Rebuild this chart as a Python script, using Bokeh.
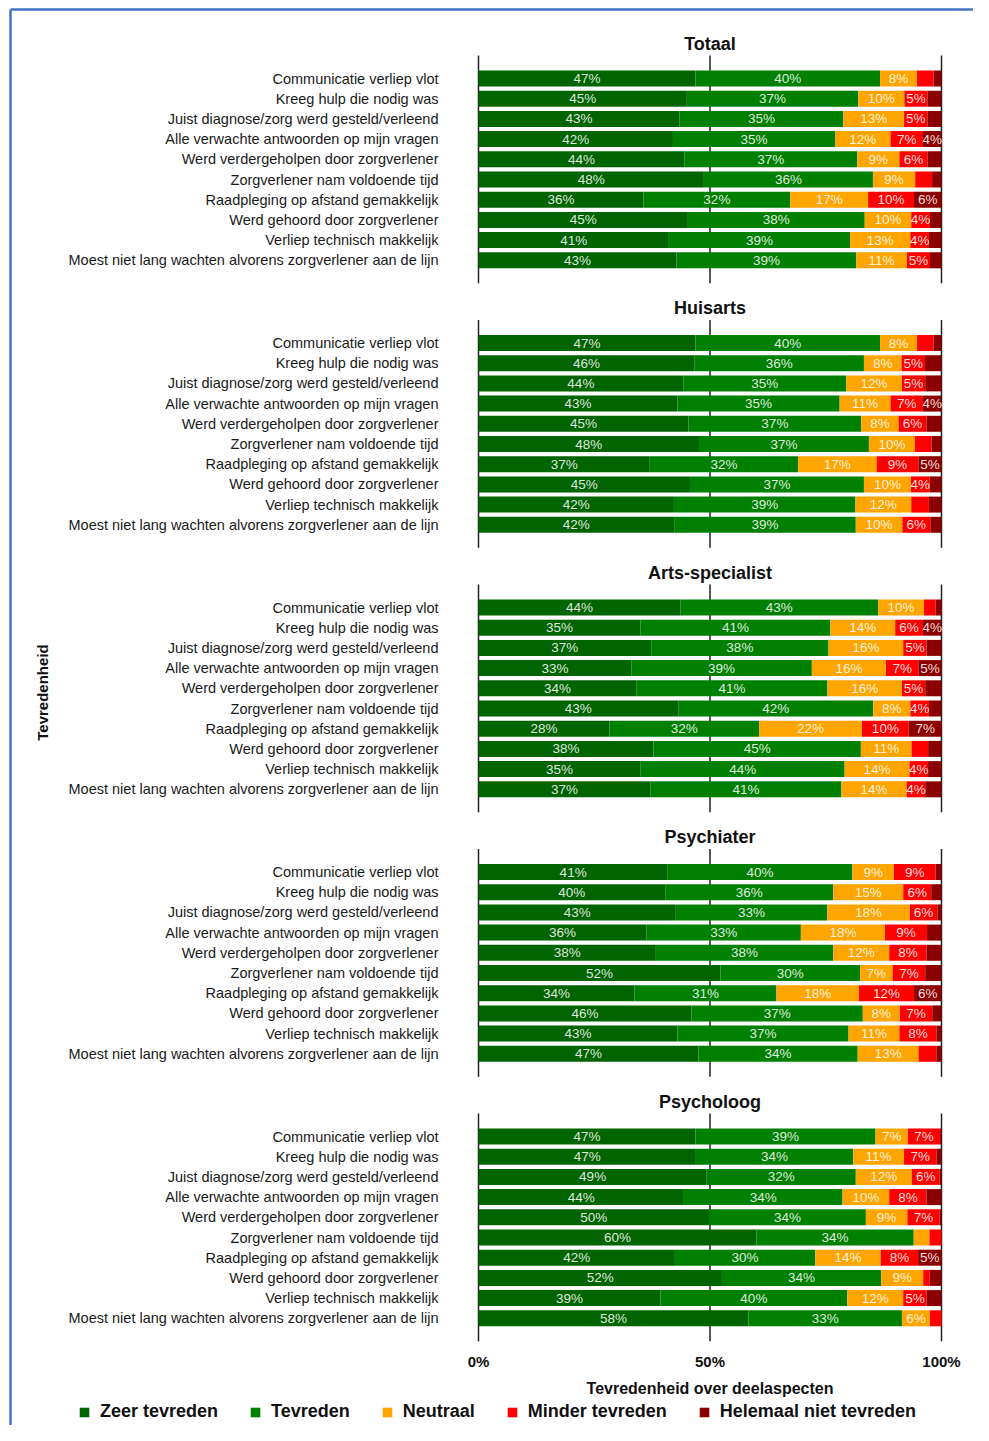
import math
from bokeh.plotting import figure
from bokeh.models import Range1d, Legend, LegendItem, ColumnDataSource
from bokeh.core.properties import value
from bokeh.embed import file_html
from bokeh.resources import INLINE

# ---------------- data ----------------
panels = ["Totaal", "Huisarts", "Arts-specialist", "Psychiater", "Psycholoog"]
aspects = [
    "Communicatie verliep vlot",
    "Kreeg hulp die nodig was",
    "Juist diagnose/zorg werd gesteld/verleend",
    "Alle verwachte antwoorden op mijn vragen",
    "Werd verdergeholpen door zorgverlener",
    "Zorgverlener nam voldoende tijd",
    "Raadpleging op afstand gemakkelijk",
    "Werd gehoord door zorgverlener",
    "Verliep technisch makkelijk",
    "Moest niet lang wachten alvorens zorgverlener aan de lijn",
]
categories = ["Zeer tevreden", "Tevreden", "Neutraal", "Minder tevreden", "Helemaal niet tevreden"]
colors = ["#006400", "#008000", "#FFA500", "#FF0000", "#8B0000"]

zeer_tevreden = {
    "Totaal":          [47, 45, 43, 42, 44, 48, 36, 45, 41, 43],
    "Huisarts":        [47, 46, 44, 43, 45, 48, 37, 45, 42, 42],
    "Arts-specialist": [44, 35, 37, 33, 34, 43, 28, 38, 35, 37],
    "Psychiater":      [41, 40, 43, 36, 38, 52, 34, 46, 43, 47],
    "Psycholoog":      [47, 47, 49, 44, 50, 60, 42, 52, 39, 58],
}
tevreden = {
    "Totaal":          [40, 37, 35, 35, 37, 36, 32, 38, 39, 39],
    "Huisarts":        [40, 36, 35, 35, 37, 37, 32, 37, 39, 39],
    "Arts-specialist": [43, 41, 38, 39, 41, 42, 32, 45, 44, 41],
    "Psychiater":      [40, 36, 33, 33, 38, 30, 31, 37, 37, 34],
    "Psycholoog":      [39, 34, 32, 34, 34, 34, 30, 34, 40, 33],
}
neutraal = {
    "Totaal":          [8, 10, 13, 12, 9, 9, 17, 10, 13, 11],
    "Huisarts":        [8, 8, 12, 11, 8, 10, 17, 10, 12, 10],
    "Arts-specialist": [10, 14, 16, 16, 16, 8, 22, 11, 14, 14],
    "Psychiater":      [9, 15, 18, 18, 12, 7, 18, 8, 11, 13],
    "Psycholoog":      [7, 11, 12, 10, 9, 3.4, 14, 9, 12, 6],
}
minder_tevreden = {
    "Totaal":          [3.6, 5, 5, 7, 6, 3.6, 10, 4, 4, 5],
    "Huisarts":        [3.6, 5, 5, 7, 6, 3.6, 9, 4, 3.8, 6],
    "Arts-specialist": [2.5, 6, 5, 7, 5, 4, 10, 3.6, 4, 4],
    "Psychiater":      [9, 6, 6, 9, 8, 7, 12, 7, 8, 3.8],
    "Psycholoog":      [7, 7, 6, 8, 7, 2.6, 8, 1.4, 5, 2.5],
}
helemaal_niet = {
    "Totaal":          [1.7, 3, 3, 4, 3, 2, 6, 2.5, 2.7, 2.5],
    "Huisarts":        [1.7, 3.5, 3.5, 4, 3.2, 2.2, 5, 2.5, 2.7, 2.4],
    "Arts-specialist": [1.3, 4, 3.2, 5, 3.5, 2.7, 7, 2.9, 2.9, 3.5],
    "Psychiater":      [1.3, 2.2, 0.9, 3.1, 3.2, 3.5, 6, 2, 1.1, 1.1],
    "Psycholoog":      [0.3, 1.1, 0.4, 3.2, 0.4, 0, 5, 2.5, 3.2, 0],
}
series = [zeer_tevreden, tevreden, neutraal, minder_tevreden, helemaal_niet]
x_ticks = [0, 50, 100]
x_tick_labels = ["0%", "50%", "100%"]

# ---------------- layout (page pixels) ----------------
W, H = 973, 1425
OFF = 0
X0_PAGE, X100_PAGE = 478, 941
ROW0 = 78.0
ROW_STEP = 20.2
PANEL_STEP = 264.5
BAR_H = 16
FONT = "Liberation Sans"


def pct(px):
    return (px - X0_PAGE) / (X100_PAGE - X0_PAGE) * 100.0


p = figure(width=W, height=H,
           x_range=Range1d(pct(OFF), pct(OFF + W)),
           y_range=Range1d(OFF + H, OFF),
           output_backend="svg", toolbar_location=None,
           min_border=0, x_axis_location=None, y_axis_location=None,
           outline_line_color=None, background_fill_color="white",
           border_fill_color="white")
p.grid.visible = False

# blue frame
p.segment(x0=[pct(10), pct(10)], y0=[9, 9], x1=[pct(10), pct(1000)], y1=[1450, 9],
          line_color="#4472C4", line_width=2.5)

# gridlines at 0/50/100 per panel
gx, gy0, gy1 = [], [], []
for k in range(len(panels)):
    top = ROW0 + k * PANEL_STEP
    bot = top + (len(aspects) - 1) * ROW_STEP
    for t in x_ticks:
        gx.append(t)
        gy0.append(top - 23)
        gy1.append(bot + 23)
p.segment(x0=gx, y0=gy0, x1=gx, y1=gy1, line_color="#222222", line_width=1.5)

# bars
ys = []
lefts = {c: [] for c in categories}
rights = {c: [] for c in categories}
vals = {c: [] for c in categories}
for k, pn in enumerate(panels):
    for i in range(len(aspects)):
        y = ROW0 + k * PANEL_STEP + i * ROW_STEP
        ys.append(y)
        row = [s[pn][i] for s in series]
        tot = sum(row)
        cum = 0.0
        for c, v in zip(categories, row):
            lefts[c].append(cum / tot * 100)
            cum += v
            rights[c].append(cum / tot * 100)
            vals[c].append(v)

items = []
lab_x, lab_y, lab_t = [], [], []
for c, col in zip(categories, colors):
    src = ColumnDataSource(dict(y=ys, left=lefts[c], right=rights[c]))
    r = p.hbar(y="y", left="left", right="right", height=BAR_H, source=src,
               fill_color=col, line_color=None)
    items.append(LegendItem(label=c, renderers=[r]))
    for yy, l, rr, v in zip(ys, lefts[c], rights[c], vals[c]):
        if v >= 4:
            lab_x.append((l + rr) / 2)
            lab_y.append(yy)
            lab_t.append(f"{round(v)}%")

p.text(x=lab_x, y=lab_y, text=lab_t, text_align="center", text_baseline="middle",
       text_color="white", text_alpha=0.88, text_font=value(FONT), text_font_size="13.5px")

# category labels
cx, cy, ct = [], [], []
for k in range(len(panels)):
    for i, a in enumerate(aspects):
        cx.append(pct(438))
        cy.append(ROW0 + k * PANEL_STEP + i * ROW_STEP)
        ct.append(a)
p.text(x=cx, y=cy, text=ct, text_align="right", text_baseline="middle",
       text_color="#1a1a1a", text_font=value(FONT), text_font_size="14.5px")

# panel titles
p.text(x=[50] * len(panels), y=[ROW0 + k * PANEL_STEP - 35 for k in range(len(panels))],
       text=panels, text_align="center", text_baseline="middle", text_color="#111111",
       text_font=value(FONT), text_font_size="18px", text_font_style="bold")

# tick labels (bottom)
last_bot = ROW0 + (len(panels) - 1) * PANEL_STEP + (len(aspects) - 1) * ROW_STEP
p.text(x=x_ticks, y=[last_bot + 43] * 3, text=x_tick_labels, text_align="center",
       text_baseline="middle", text_color="#111111", text_font=value(FONT),
       text_font_size="15px", text_font_style="bold")

# axis titles
p.text(x=[50], y=[last_bot + 70], text=["Tevredenheid over deelaspecten"],
       text_align="center", text_baseline="middle", text_color="#111111",
       text_font=value(FONT), text_font_size="16px", text_font_style="bold")
p.text(x=[pct(42)], y=[692], text=["Tevredenheid"], angle=math.pi / 2,
       text_align="center", text_baseline="middle", text_color="#111111",
       text_font=value(FONT), text_font_size="15px", text_font_style="bold")

legend = Legend(items=items, orientation="horizontal", location=(78, 3),
                padding=0, margin=0, spacing=31, label_standoff=10,
                glyph_width=12, glyph_height=12, label_height=20,
                border_line_color=None, background_fill_alpha=0,
                label_text_font=FONT, label_text_font_size="18px",
                label_text_font_style="bold", label_text_color="#111111")
p.add_layout(legend)

open("out.html", "w").write(file_html(p, INLINE))
